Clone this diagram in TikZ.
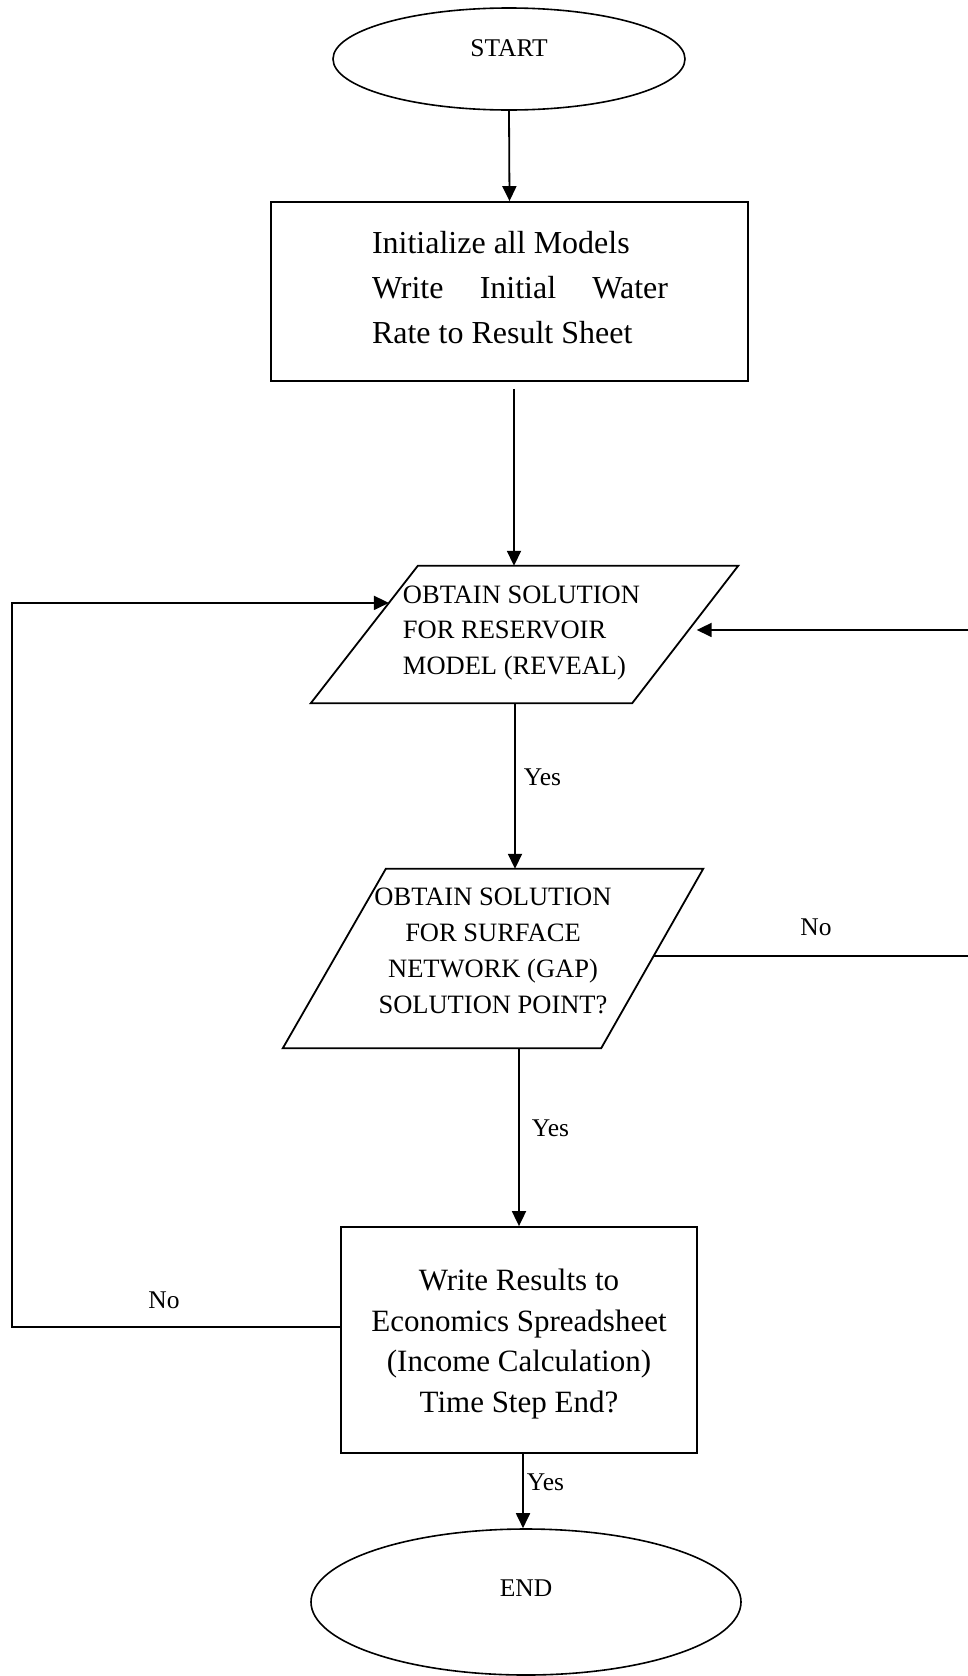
\documentclass[tikz,border=0pt]{standalone}
\usepackage{fontspec}
\setmainfont{Liberation Serif}
\usetikzlibrary{arrows.meta,calc,shapes.geometric}
\begin{document}
\begin{tikzpicture}[x=1pt,y=-1pt,
  line/.style={line width=1.8pt},
  arr/.style={line width=1.8pt, -{Triangle[length=15pt,width=14pt]}},
  term/.style={ellipse, draw, line width=1.6pt, inner sep=0pt},
  procbox/.style={rectangle, draw, line width=1.8pt, inner sep=0pt},
  iobox/.style={rectangle, inner sep=0pt},
  termfont/.style={font=\fontsize{25.5}{30}\selectfont},
  boxfont/.style={font=\fontsize{32}{45}\selectfont},
  boxfontb/.style={font=\fontsize{31}{40.7}\selectfont},
  iofont/.style={font=\fontsize{26.5}{35.8}\selectfont},
  lab/.style={font=\fontsize{25.5}{30}\selectfont, inner sep=0pt},
]
\useasboundingbox (0,0) rectangle (968,1676);
\fill[white] (0,0) rectangle (968,1676);

% terminals and boxes
\node[term, minimum width=352pt, minimum height=102pt,
  label={[termfont, yshift=11pt]center:START}] (start) at (509,59) {};

\node[procbox, minimum width=477pt, minimum height=179pt,
  label={[boxfont, align=left, xshift=10.5pt, yshift=3.5pt]center:Initialize all Models\\\makebox[296pt][s]{Write Initial Water}\\Rate to Result Sheet}] (init) at (509.5,291.5) {};

\node[iobox, minimum width=427pt, minimum height=137pt,
  label={[iofont, align=left, xshift=-3pt, yshift=1.5pt]center:OBTAIN SOLUTION\\FOR RESERVOIR\\MODEL (REVEAL)}] (p1) at (524.5,634.5) {};
\coordinate (p1tl) at ($(p1.north west)+(107,0)$);
\coordinate (p1tr) at (p1.north east);
\coordinate (p1br) at ($(p1.south east)+(-106,0)$);
\coordinate (p1bl) at (p1.south west);
\draw[line] (p1tl) -- (p1tr) -- (p1br) -- (p1bl) -- cycle;

\node[iobox, minimum width=420pt, minimum height=179pt,
  label={[iofont, align=center, yshift=7.5pt]center:OBTAIN SOLUTION\\FOR SURFACE\\NETWORK (GAP)\\SOLUTION POINT?}] (p2) at (493,958.5) {};
\coordinate (p2tl) at ($(p2.north west)+(103,0)$);
\coordinate (p2tr) at (p2.north east);
\coordinate (p2br) at ($(p2.south east)+(-102,0)$);
\coordinate (p2bl) at (p2.south west);
\draw[line] (p2tl) -- (p2tr) -- (p2br) -- (p2bl) -- cycle;

\node[procbox, minimum width=356pt, minimum height=226pt,
  label={[boxfontb, align=center, yshift=-4pt]center:Write Results to\\Economics Spreadsheet\\(Income Calculation)\\Time Step End?}] (res) at (519,1340) {};

\node[term, minimum width=430pt, minimum height=146pt,
  label={[termfont, yshift=14pt]center:END}] (end) at (526,1602) {};

% main flow
\draw[arr] (start.south) -- (init.north);
\draw[arr] ($(init.south)+(4.5,7)$) -- ($(init.south |- p1.north)+(4.5,0)$);

\coordinate (a2) at ($(p1.south)+(-9.5,0)$);
\draw[arr] (a2) -- (a2 |- p2.north)
  node[lab, anchor=west, pos=0.45, xshift=8pt] (yes1) {Yes};

\coordinate (a3) at ($(p2.south)+(26,0)$);
\draw[arr] (a3) -- (a3 |- res.north)
  node[lab, anchor=west, pos=0.45, xshift=12pt] (yes2) {Yes};

\coordinate (a4) at ($(res.south)+(4,0)$);
\draw[arr] (a4) -- (a4 |- end.north)
  node[lab, anchor=west, pos=0.38, xshift=3pt] (yes3) {Yes};

% left loop (No from results back to reservoir)
\coordinate (p1in) at ($(p1tl)!0.27!(p1bl)$);
\coordinate (lbot) at (12,1327);
\draw[arr] (res.west |- lbot) -- (lbot) -- (lbot |- p1in) -- (p1in);
\node[lab] (no1) at (164,1300) {No};

% right loop (No from surface network back to reservoir)
\coordinate (p2out) at ($(p2tr)!0.486!(p2br)$);
\coordinate (p1back) at ($(p1tr)!0.467!(p1br)$);
\coordinate (rcol) at (969.5,0);
\draw[arr, shorten >=8pt] (p2out) -- (rcol |- p2out) -- (rcol |- p1back) -- (p1back);
\node[lab] (no2) at (816,927) {No};
\end{tikzpicture}
\end{document}
